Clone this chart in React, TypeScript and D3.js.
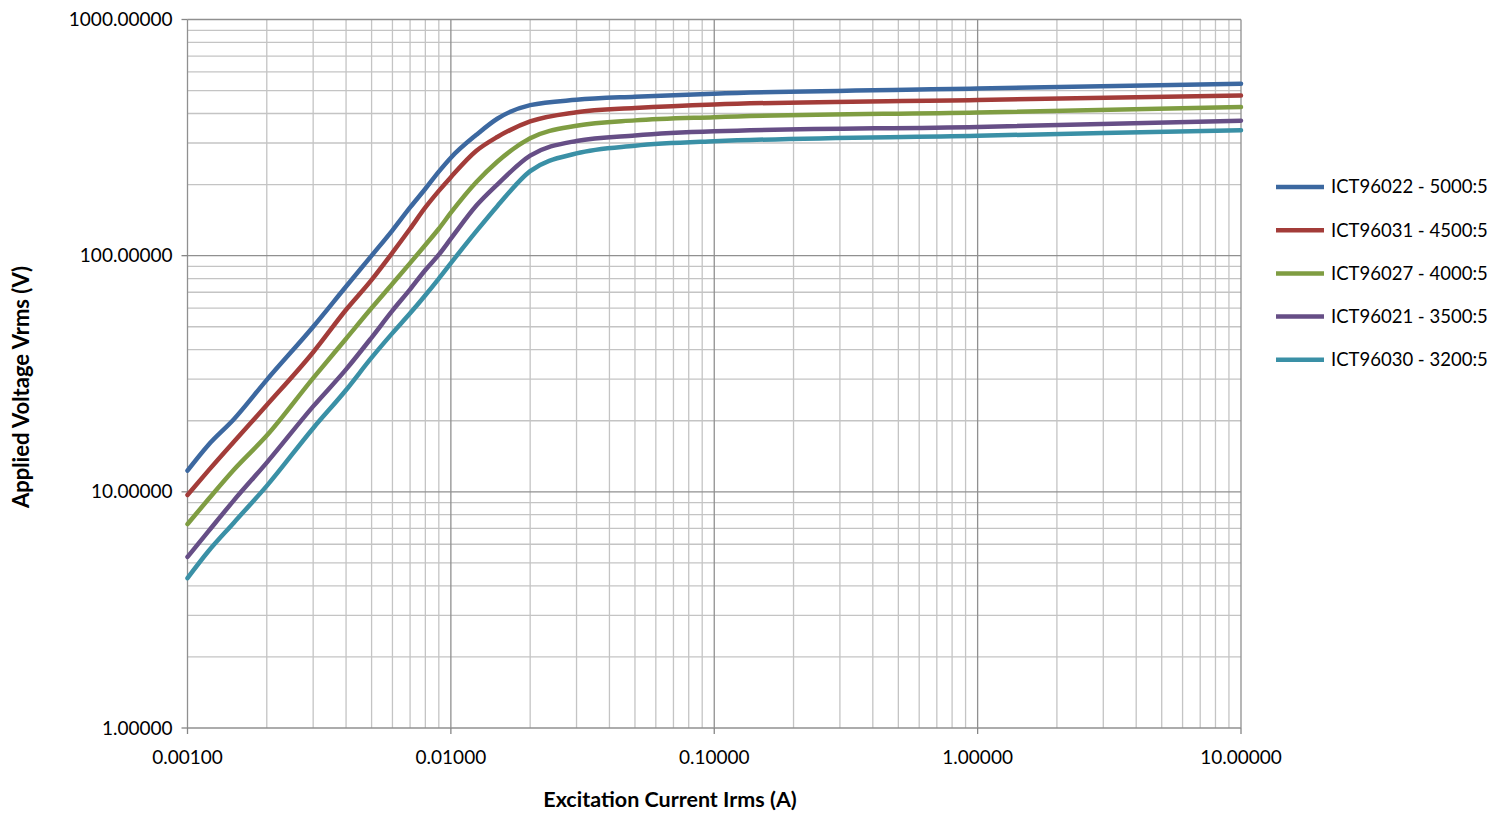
import React from 'react';
import * as d3 from 'd3';

// Excitation current (A) sample points
const currents = [
  0.001, 0.0012, 0.0015, 0.002, 0.003, 0.004, 0.005, 0.006, 0.007, 0.008, 0.009,
  0.01, 0.0125, 0.015, 0.02, 0.03, 0.05, 0.1, 1, 10,
];

// Applied voltage (V) per transformer
const ict96022 = [12.3, 15.8, 20.3, 29.8, 50, 74, 100, 128, 160, 192, 227, 260, 325, 380, 434, 457, 471, 485, 510, 535];
const ict96031 = [9.7, 12.3, 16.3, 23.3, 39, 59, 79, 103, 130, 160, 188, 215, 278, 318, 370, 405, 422, 437, 456, 477];
const ict96027 = [7.3, 9.3, 12.4, 17.3, 30.3, 44.5, 60, 76, 93, 111, 130, 152, 205, 250, 314, 355, 374, 386, 404, 426];
const ict96021 = [5.3, 6.8, 9.2, 13.3, 23, 33, 45, 58.5, 72, 87, 101, 118, 163, 200, 265, 306, 323, 336, 351, 373];
const ict96030 = [4.31, 5.6, 7.4, 10.6, 18.6, 27, 37, 47, 57, 68, 80, 93, 127, 162, 228, 271, 292, 305, 322, 340];

const seriesNames = [
  'ICT96022 - 5000:5',
  'ICT96031 - 4500:5',
  'ICT96027 - 4000:5',
  'ICT96021 - 3500:5',
  'ICT96030 - 3200:5',
];
const seriesValues = [ict96022, ict96031, ict96027, ict96021, ict96030];
const seriesColors = ['#3C68A0', '#A33C39', '#7F9D42', '#664E86', '#3A90A6'];

const xTicks = [0.001, 0.01, 0.1, 1, 10];
const xTickLabels = ['0.00100', '0.01000', '0.10000', '1.00000', '10.00000'];
const yTicks = [1, 10, 100, 1000];
const yTickLabels = ['1.00000', '10.00000', '100.00000', '1000.00000'];

const width = 1506;
const height = 814;
const margin = { top: 19.5, right: 265, bottom: 86, left: 187.5 };
const font = 'Lato, "Open Sans", sans-serif';

const App: React.FC = () => {
  const x = d3.scaleLog()
    .domain([0.001, 10])
    .range([margin.left, width - margin.right]);
  const y = d3.scaleLog()
    .domain([1, 1000])
    .range([height - margin.bottom, margin.top]);

  // minor grid values 2..9 in every decade
  const minorX: number[] = [];
  for (let e = -3; e < 1; e++) for (let m = 2; m <= 9; m++) minorX.push(m * Math.pow(10, e));
  const minorY: number[] = [];
  for (let e = 0; e < 3; e++) for (let m = 2; m <= 9; m++) minorY.push(m * Math.pow(10, e));

  const line = d3.line<number>()
    .x((d, i) => x(currents[i]))
    .y(d => y(d))
    .curve(d3.curveMonotoneX);

  const [x0, x1] = x.range();
  const [y0, y1] = y.range();

  return (
    <svg width={width} height={height} style={{ position: 'absolute', left: 0, top: 0, background: '#fff' }} fontFamily={font}>
      {/* minor grid */}
      <g stroke="#C4C4C4" strokeWidth={1.3}>
        {minorX.map(v => <line key={'mx' + v} x1={x(v)} x2={x(v)} y1={y1} y2={y0} />)}
        {minorY.map(v => <line key={'my' + v} x1={x0} x2={x1} y1={y(v)} y2={y(v)} />)}
      </g>
      {/* major grid */}
      <g stroke="#909090" strokeWidth={1.3}>
        {xTicks.map(v => <line key={'Mx' + v} x1={x(v)} x2={x(v)} y1={y1} y2={y0} />)}
        {yTicks.map(v => <line key={'My' + v} x1={x0} x2={x1} y1={y(v)} y2={y(v)} />)}
      </g>
      {/* axis ticks */}
      <g stroke="#868686" strokeWidth={1.3}>
        {yTicks.map(v => <line key={'ty' + v} x1={x0 - 6} x2={x0} y1={y(v)} y2={y(v)} />)}
        {xTicks.map(v => <line key={'tx' + v} x1={x(v)} x2={x(v)} y1={y0} y2={y0 + 6} />)}
      </g>
      {/* tick labels */}
      <g fontSize={19} fill="#000">
        {yTicks.map((v, i) => (
          <text key={'ly' + v} x={x0 - 15} y={y(v)} dy="0.35em" textAnchor="end">{yTickLabels[i]}</text>
        ))}
        {xTicks.map((v, i) => (
          <text key={'lx' + v} x={x(v)} y={y0 + 36} textAnchor="middle">{xTickLabels[i]}</text>
        ))}
      </g>
      {/* series */}
      <g fill="none" strokeWidth={4.5} strokeLinejoin="round" strokeLinecap="round">
        {seriesValues.map((vals, i) => (
          <path key={seriesNames[i]} d={line(vals) || ''} stroke={seriesColors[i]} />
        ))}
      </g>
      {/* axis titles */}
      <text x={670} y={807} textAnchor="middle" fontSize={21.5} fontWeight="bold">
        Excitation Current Irms (A)
      </text>
      <text transform={`translate(29, 387) rotate(-90)`} textAnchor="middle" fontSize={22} fontWeight="bold">
        Applied Voltage Vrms (V)
      </text>
      {/* legend */}
      <g>
        {seriesNames.map((name, i) => (
          <g key={name} transform={`translate(1276, ${187 + i * 43.2})`}>
            <line x1={0} x2={48} y1={0} y2={0} stroke={seriesColors[i]} strokeWidth={4.5} />
            <text x={55} y={0} dy="0.35em" fontSize={18.5}>{name}</text>
          </g>
        ))}
      </g>
    </svg>
  );
};

export default App;
